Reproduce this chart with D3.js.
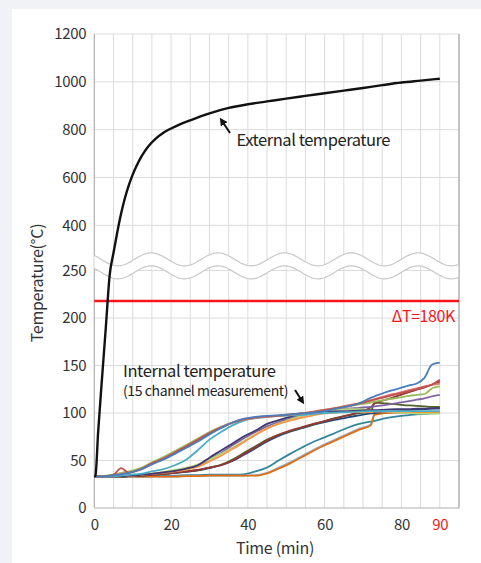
<!DOCTYPE html>
<html>
<head>
<meta charset="utf-8">
<script src="https://cdn.jsdelivr.net/npm/d3@7/dist/d3.min.js"></script>
<style>
  html,body{margin:0;padding:0;background:#f0f2f5;}
  svg{display:block;}
  text{font-family:"Noto Sans CJK KR","Noto Sans",sans-serif;}
</style>
</head>
<body>
<svg id="chart" width="481" height="563"></svg>
<script>
// ---------------- data ----------------
const xTicks = [0, 20, 40, 60, 80, 90];
const yTicksUpper = [400, 600, 800, 1000, 1200];
const yTicksLower = [0, 50, 100, 150, 200, 250];
const deltaTLimit = 218;
const deltaTLabel = "ΔT=180K";

// external (furnace) temperature
const extTime = [0, 0.3, 1, 2, 3, 4, 5, 6, 7, 8, 9, 10, 11, 12, 13, 14, 16, 18, 20, 22, 25, 30, 35, 40, 45, 50, 55, 60, 65, 70, 75, 80, 85, 90];
const extTemp = [33, 34, 80, 136, 190, 245, 285, 372, 450, 515, 568, 612, 648, 680, 706, 728, 762, 787, 805, 820, 839, 868, 891, 906, 918, 930, 941, 952, 963, 974, 986, 997, 1005, 1013];

// internal temperature, 15 channels, common time base (min)
const times = [0,1,3,5,7,9, 12,15,18,21,24,27,30,33,36,39, 42,45,48,51,54,57,60,63,66,69, 72,73,76,79,82,84,86,88,90];
const ch1  = [33,33,33.5,35,42,37, 41,47,52,58.5,65,72,79,85,90,93.5, 95.5,96.5,97.5,98.5,99.5,101,103,105,107,110, 113,114,117,120,123,125,127,130,135];
const ch2  = [33,33,33.5,34.5,36,37.5, 40,46,51.5,58,64,71,78,84.5,89.5,93, 95,96,97,98,99.5,101.5,103.5,105.5,108,110.5, 113.5,114.5,118,121,124,126,128,129.5,131];
const ch3  = [33,33,33.5,34.5,35.5,37, 40.5,46,51,57,63.5,70,77.5,84,90,94, 96,97,97.5,98.5,99.5,100.5,102,104.5,107,110, 116,117.5,122,125.5,129,131,137,151,153];
const ch4  = [33,33,34,35.5,37,38.5, 42,48,53.5,60,66.5,73,80,85.5,90,93, 95,96,97,98,99.5,101,103,105,107,109, 111,112,114,116,118,119,120,126,128];
const ch5  = [33,33,33,33.5,34,35, 36,38.5,41,45,51,61,72,80,87,92, 94.5,96,97,97.5,98,99,100,100.5,101,101.5, 102,102,102,102,102,102,102,102,102];
const ch6  = [33,33,33,33,33.5,34, 35,36,37.5,39,41.5,45,53,60.5,68,75.5, 81.5,88.5,92.5,96,98.5,100,101,101.5,102,102.5, 103,103,103.5,104,104,104.5,104.5,105,105];
const ch7  = [33,33,33,33,33.5,34, 35,36,37,38.5,40.5,43.5,49,55,62,69.5, 77,83.5,88.5,92,95,97.5,99.5,100.5,101,101, 101,101.5,101.5,101.5,101.5,101.5,101.5,101.5,101.5];
const ch8  = [33,33,33,33,33.5,34, 35,36.5,38,40,42.5,46,51,57,63.5,70.5, 77.5,84,89,93,97,100.5,102.5,103.5,104,104, 103,102.5,101.5,100.5,100,99.5,99.5,99.5,99.5];
const ch9  = [33,33,33,33,33.5,34, 35,36,37.5,39,41,44.5,51,58,66,73.5, 80,86,90.5,94,97,99.5,101.5,103,104.5,105.5, 106.5,107,108.5,110.5,112.5,114,115.5,117.5,119];
const ch10 = [33,33,33,33,33,33.5, 34,35,36,37,38.5,40,42.5,45,50,57, 64,71,77,81.5,85,88.5,91.5,94.5,97.5,101, 106,110,114,118,122,124.5,127,130,133];
const ch11 = [33,33,33,33,33,33.5, 34,35,36,37,38.5,40,42.5,45.5,51,58, 65,72,77,81,84.5,88,91.5,95,97.5,100, 101,111,110,109,108,107.5,107,106.5,106.5];
const ch12 = [33,33,33,33,33,33.5, 34,35,36,37,38,39.5,42,45,49.5,56, 63,70,76,80.5,84,87.5,90.5,93,95.5,97.5, 99.5,100,101,102,103,103.5,104,104.5,105];
const ch13 = [33,33,33,33,33,33, 33,33.5,34,34,34.5,34.5,35,35,35,35.5, 38.5,42.6,50,57,63.5,69.5,74.3,79.5,84.5,88.5, 91,91.8,94.5,96.5,97.8,98.6,99.2,99.6,100];
const ch14 = [33,33,33,33,33,33, 33,33,33,33,33.5,33.5,34,34,34,34, 34.5,37,42.5,48,54.5,61,67,72.5,78,83.5, 88,99,100,100.5,100.5,100.5,100.5,100.5,100.5];
const ch15 = [33,33,33,33,33,33, 33,33,33,33,33.5,33.5,34,34,34,34, 34,36.5,41.5,47,53.5,60,66,71.5,77,82.5, 87,98,100,100.5,101,101,101,101,101];

const channels = [ch13, ch14, ch15, ch12, ch11, ch10, ch9, ch8, ch7, ch6, ch5, ch4, ch2, ch1, ch3];
const channelColors = ["#31859c", "#8eb4e3", "#e46c0a", "#1f497d", "#4f6228", "#953735", "#8064a2", "#b7d47a", "#f79646", "#3f3873", "#4bacc6", "#9bbb59", "#d9716e", "#c0504d", "#4a7ebb"];

// ---------------- layout ----------------
const svg = d3.select("#chart");
svg.append("rect").attr("x", 12).attr("y", 9).attr("width", 481).attr("height", 563).attr("fill", "#ffffff");

const x = d3.scaleLinear().domain([0, 95]).range([94.3, 459]);
const yHigh = d3.scaleLinear().domain([400, 1200]).range([225.3, 34]);
const yLow = d3.scaleLinear().domain([0, 250]).range([508, 270.5]);
const yAny = v => v <= 250 ? yLow(v) : yHigh(v);
const plotTop = yHigh(1200), plotBottom = yLow(0);

const gridColor = "#dcdcdc";
const g = svg.append("g");

// vertical grid
g.selectAll("line.vg").data(d3.range(5, 95, 5)).join("line")
  .attr("x1", d => x(d)).attr("x2", d => x(d))
  .attr("y1", plotTop).attr("y2", plotBottom)
  .attr("stroke", gridColor).attr("stroke-width", 1);

// horizontal grid
g.selectAll("line.hu").data(yTicksUpper).join("line")
  .attr("x1", x(0)).attr("x2", x(95))
  .attr("y1", d => yHigh(d)).attr("y2", d => yHigh(d))
  .attr("stroke", gridColor).attr("stroke-width", 1);
g.selectAll("line.hl").data(yTicksLower.filter(d => d > 0)).join("line")
  .attr("x1", x(0)).attr("x2", x(95))
  .attr("y1", d => yLow(d)).attr("y2", d => yLow(d))
  .attr("stroke", gridColor).attr("stroke-width", 1);

// frame
g.append("line").attr("x1", x(0)).attr("x2", x(0)).attr("y1", plotTop).attr("y2", plotBottom).attr("stroke", "#b0b0b0").attr("stroke-width", 1.2);
g.append("line").attr("x1", x(95)).attr("x2", x(95)).attr("y1", plotTop).attr("y2", plotBottom).attr("stroke", "#b0b0b0").attr("stroke-width", 1.5);
g.append("line").attr("x1", x(0)).attr("x2", x(95)).attr("y1", plotBottom).attr("y2", plotBottom).attr("stroke", "#b0b0b0").attr("stroke-width", 1.2);

// axis break (wave band)
const breakMid = (yHigh(250) + yLow(250)) / 2;
const amp = 6.5, period = 66.7, phase = 84.5;
const waveXs = d3.range(x(0), x(95) + 0.01, 1);
const wave = (xx, off) => breakMid + off - amp * Math.cos(2 * Math.PI * (xx - phase) / period);
const upperPts = waveXs.map(xx => [xx, wave(xx, -6.5)]);
const lowerPts = waveXs.map(xx => [xx, wave(xx, 6.5)]);
const lineGen = d3.line();
g.append("path")
  .attr("d", lineGen(upperPts.concat(lowerPts.slice().reverse())) + "Z")
  .attr("fill", "#ffffff").attr("stroke", "none");
g.append("path").attr("d", lineGen(upperPts)).attr("fill", "none").attr("stroke", "#c8c8c8").attr("stroke-width", 1.2);
g.append("path").attr("d", lineGen(lowerPts)).attr("fill", "none").attr("stroke", "#c8c8c8").attr("stroke-width", 1.2);

// Delta T limit line
g.append("line").attr("x1", x(0)).attr("x2", x(95))
  .attr("y1", yLow(deltaTLimit)).attr("y2", yLow(deltaTLimit))
  .attr("stroke", "#f5161c").attr("stroke-width", 2.5);
g.append("text").attr("x", 455).attr("y", yLow(deltaTLimit) + 21)
  .attr("text-anchor", "end").attr("font-size", 16).attr("fill", "#f5161c")
  .attr("letter-spacing", "-0.4").text(deltaTLabel);

// internal channel lines
const internalLine = d3.line().x((d, i) => x(times[i])).y(d => yLow(d)).curve(d3.curveMonotoneX);
g.selectAll("path.ch").data(channels).join("path")
  .attr("d", d => internalLine(d))
  .attr("fill", "none")
  .attr("stroke", (d, i) => channelColors[i])
  .attr("stroke-width", 1.8)
  .attr("stroke-linejoin", "round");

// external line
const extData = extTime.map((t, i) => [t, extTemp[i]]);
const extLine = d3.line().x(d => x(d[0])).y(d => yAny(d[1])).curve(d3.curveMonotoneX);
g.append("path").attr("d", extLine(extData)).attr("fill", "none")
  .attr("stroke", "#111111").attr("stroke-width", 2.4).attr("stroke-linejoin", "round");

// axes
const tickColor = "#333333";
const fmt = d3.format("d");
const yAxisU = d3.axisLeft(yHigh).tickValues(yTicksUpper).tickFormat(fmt).tickSize(0).tickPadding(8);
const yAxisL = d3.axisLeft(yLow).tickValues(yTicksLower).tickFormat(fmt).tickSize(0).tickPadding(8);
const xAxis = d3.axisBottom(x).tickValues(xTicks).tickFormat(fmt).tickSize(0).tickPadding(11);
[yAxisU, yAxisL].forEach(ax => {
  const a = svg.append("g").attr("transform", `translate(${x(0)},0)`).call(ax);
  a.select(".domain").remove();
  a.selectAll("text").attr("font-size", 15).attr("fill", tickColor)
    .attr("font-family", '"Noto Sans CJK KR","Noto Sans",sans-serif').attr("letter-spacing", "-0.3");
});
const xa = svg.append("g").attr("transform", `translate(0,${plotBottom})`).call(xAxis);
xa.select(".domain").remove();
xa.selectAll("text").attr("font-size", 15).attr("fill", d => d === 90 ? "#f5161c" : tickColor)
  .attr("font-family", '"Noto Sans CJK KR","Noto Sans",sans-serif').attr("letter-spacing", "-0.3");

// axis titles
svg.append("text").attr("x", 275).attr("y", 554).attr("text-anchor", "middle")
  .attr("font-size", 16).attr("fill", tickColor).attr("letter-spacing", "-0.3").text("Time (min)");
svg.append("text").attr("transform", "translate(43,283) rotate(-90)").attr("text-anchor", "middle")
  .attr("font-size", 16).attr("fill", tickColor).attr("letter-spacing", "-0.3").text("Temperature(°C)");

// annotations
svg.append("defs").append("marker").attr("id", "ah").attr("viewBox", "0 0 10 10")
  .attr("refX", 5).attr("refY", 5).attr("markerWidth", 4).attr("markerHeight", 4)
  .attr("orient", "auto-start-reverse")
  .append("path").attr("d", "M0,0 L10,5 L0,10 Z").attr("fill", "#111");

svg.append("text").attr("x", 236.5).attr("y", 146).attr("font-size", 16.5).attr("fill", "#222")
  .attr("letter-spacing", "-0.45").text("External temperature");
svg.append("line").attr("x1", 230).attr("y1", 133).attr("x2", 222).attr("y2", 121)
  .attr("stroke", "#111").attr("stroke-width", 2).attr("marker-end", "url(#ah)");

svg.append("text").attr("x", 123).attr("y", 377).attr("font-size", 16.5).attr("fill", "#222")
  .attr("letter-spacing", "-0.4").text("Internal temperature");
svg.append("text").attr("x", 123).attr("y", 396).attr("font-size", 14).attr("fill", "#222")
  .attr("letter-spacing", "-0.4").text("(15 channel measurement)");
svg.append("line").attr("x1", 295).attr("y1", 390).attr("x2", 302).attr("y2", 401)
  .attr("stroke", "#111").attr("stroke-width", 2).attr("marker-end", "url(#ah)");
</script>
</body>
</html>
